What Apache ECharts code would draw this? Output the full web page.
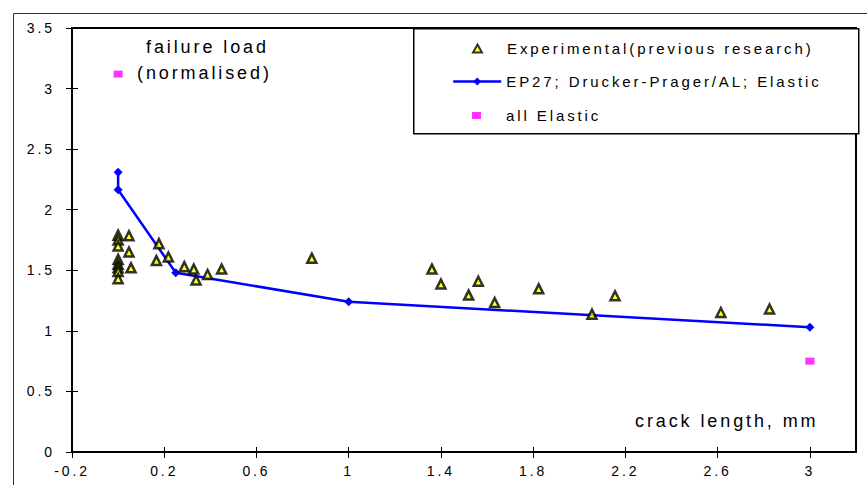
<!DOCTYPE html>
<html>
<head>
<meta charset="utf-8">
<script src="https://cdn.jsdelivr.net/npm/echarts@6/dist/echarts.min.js"></script>
<style>
  html, body { margin: 0; padding: 0; background: #fff; }
  #chart { width: 867px; height: 485px; }
  /* 原图文字字距较宽 */
  #chart text { letter-spacing: 2.9px; }
</style>
</head>
<body>
<div id="chart"></div>
<script>
// 数据 - 裂纹长度 vs 归一化破坏载荷
var xTicks = [-0.2, 0.2, 0.6, 1, 1.4, 1.8, 2.2, 2.6, 3];
var yTicks = [0, 0.5, 1, 1.5, 2, 2.5, 3, 3.5];

// Experimental(previous research)
var expX = [0, 0, 0, 0.047, 0.047, 0.177, 0, 0, 0, 0, 0, 0.056, 0.166, 0.218, 0.287, 0.328, 0.338, 0.388, 0.449,
            0.84, 1.361, 1.40, 1.562, 1.52, 1.633, 1.824, 2.055, 2.155, 2.614, 2.825];
var expY = [1.79, 1.75, 1.70, 1.785, 1.65, 1.72, 1.59, 1.55, 1.52, 1.49, 1.43, 1.52, 1.58, 1.61, 1.53, 1.51, 1.42, 1.465, 1.51,
            1.60, 1.51, 1.386, 1.41, 1.295, 1.234, 1.347, 1.138, 1.29, 1.151, 1.18];

// EP27; Drucker-Prager/AL; Elastic
var epX = [0, 0, 0.25, 1, 3];
var epY = [2.31, 2.165, 1.48, 1.24, 1.03];

// all Elastic
var elX = [0, 3];
var elY = [3.12, 0.75];

function pairs(xs, ys) {
    var out = [];
    for (var i = 0; i < xs.length; i++) {
        out.push([xs[i], ys[i]]);
    }
    return out;
}

var font = "'Liberation Sans', Arial, sans-serif";
var plotW = 867 - 72 - 11;
var plotH = 485 - 28 - 33;

var chart = echarts.init(document.getElementById('chart'), null, { renderer: 'svg' });

var legendBase = {
    orient: 'vertical',
    selectedMode: false,
    textStyle: { fontFamily: font, fontSize: 15, color: '#000' }
};

var option = {
    animation: false,
    backgroundColor: '#fff',
    grid: { left: 72, top: 28, right: 11, bottom: 33, show: true, borderColor: '#000', borderWidth: 2, backgroundColor: 'transparent' },
    legend: [
        Object.assign({}, legendBase, {
            left: 467, top: 36, itemWidth: 9, itemHeight: 8,
            textStyle: { fontFamily: font, fontSize: 15, color: '#000', padding: [0, 0, 0, 20] },
            data: ['Experimental(previous research)']
        }),
        Object.assign({}, legendBase, {
            left: 447, top: 69, itemWidth: 48, itemHeight: 10,
            lineStyle: { width: 2.5 },
            data: ['EP27; Drucker-Prager/AL; Elastic']
        }),
        Object.assign({}, legendBase, {
            left: 467, top: 103, itemWidth: 9, itemHeight: 7,
            textStyle: { fontFamily: font, fontSize: 15, color: '#000', padding: [0, 0, 0, 20] },
            data: ['all Elastic']
        })
    ],
    xAxis: [
        {
            type: 'value',
            min: xTicks[0],
            max: 3.2,
            interval: 0.4,
            splitLine: { show: false },
            axisLine: { show: true, onZero: false, lineStyle: { color: '#000', width: 2 } },
            axisTick: { show: true, length: 6, lineStyle: { color: '#000' } },
            axisLabel: { showMaxLabel: false, margin: 12, fontFamily: font, fontSize: 14, color: '#000' }
        },
        {
            // 第二条x轴移到底边，只画向内的刻度
            type: 'value',
            min: xTicks[0],
            max: 3.2,
            interval: 0.4,
            position: 'top',
            offset: -plotH,
            splitLine: { show: false },
            axisLine: { show: false, onZero: false },
            axisTick: { show: true, length: 5, lineStyle: { color: '#000' } },
            axisLabel: { show: false }
        }
    ],
    yAxis: [
        {
            type: 'value',
            min: yTicks[0],
            max: 3.5,
            interval: 0.5,
            splitLine: { show: false },
            axisLine: { show: true, onZero: false, lineStyle: { color: '#000', width: 2 } },
            axisTick: { show: true, length: 6, lineStyle: { color: '#000' } },
            axisLabel: { margin: 17, fontFamily: font, fontSize: 14, color: '#000' }
        },
        {
            // 第二条y轴移到左边，只画向内的刻度
            type: 'value',
            min: yTicks[0],
            max: 3.5,
            interval: 0.5,
            position: 'right',
            offset: -plotW,
            splitLine: { show: false },
            axisLine: { show: false, onZero: false },
            axisTick: { show: true, length: 6, lineStyle: { color: '#000' } },
            axisLabel: { show: false }
        }
    ],
    graphic: [
        { type: 'rect', left: 11, top: 11, shape: { width: 855, height: 473 }, style: { fill: 'none', stroke: '#333', lineWidth: 1 }, silent: true, z: -10 },
        { type: 'rect', left: 413, top: 28, shape: { width: 445, height: 105 }, style: { fill: '#fff', stroke: '#000', lineWidth: 1.5 }, silent: true, z: 1 },
        { type: 'text', left: 146, top: 38, style: { text: 'failure load', fontFamily: font, fontSize: 18, fill: '#000' }, z: 5 },
        { type: 'text', left: 137, top: 64, style: { text: '(normalised)', fontFamily: font, fontSize: 18, fill: '#000' }, z: 5 },
        { type: 'text', left: 635, top: 412, style: { text: 'crack length, mm', fontFamily: font, fontSize: 18, fill: '#000' }, z: 5 }
    ],
    series: [
        {
            name: 'EP27; Drucker-Prager/AL; Elastic',
            type: 'line',
            data: pairs(epX, epY),
            symbol: 'diamond',
            symbolSize: 9,
            lineStyle: { color: '#0000ff', width: 2.5 },
            itemStyle: { color: '#0000ff' },
            z: 3
        },
        {
            name: 'Experimental(previous research)',
            type: 'scatter',
            data: pairs(expX, expY),
            symbol: 'triangle',
            symbolSize: 9,
            itemStyle: { color: '#ffff00', borderColor: '#000', borderWidth: 2.5 },
            z: 4
        },
        {
            name: 'all Elastic',
            type: 'scatter',
            data: pairs(elX, elY),
            symbol: 'rect',
            symbolSize: [9, 7],
            itemStyle: { color: '#ff00ff' },
            z: 4
        }
    ]
};

chart.setOption(option);
</script>
</body>
</html>
